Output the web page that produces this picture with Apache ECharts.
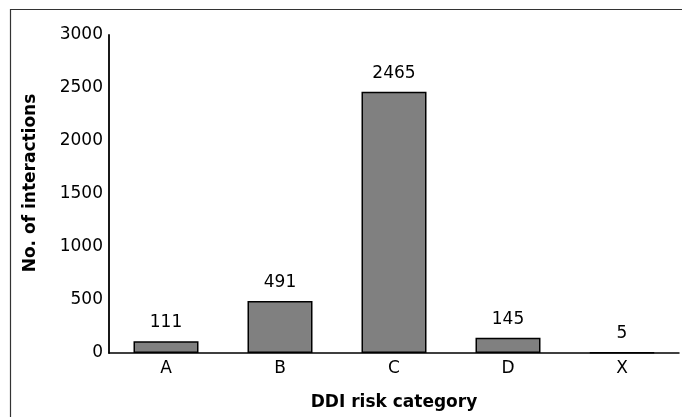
<!DOCTYPE html>
<html><head><meta charset="utf-8">
<script src="https://cdn.jsdelivr.net/npm/echarts@6/dist/echarts.min.js"></script>
<style>html,body{margin:0;padding:0;background:#fff}#c{width:682px;height:417px}</style>
</head><body><div id="c"></div>
<script>
const categories = ['A', 'B', 'C', 'D', 'X'];
const interactions = [111, 491, 2465, 145, 5];
const yTicks = { min: 0, max: 3000, interval: 500 };

const chart = echarts.init(document.getElementById('c'), null, { renderer: 'canvas' });
const font = '"DejaVu Sans", "Liberation Sans", Arial, sans-serif';
chart.setOption({
  animation: false,
  graphic: [{
    type: 'rect', silent: true,
    shape: { x: 10.5, y: 9.5, width: 700, height: 450 },
    style: { fill: 'none', stroke: '#333', lineWidth: 1.2 }
  }],
  grid: { left: 109, right: 3, top: 35, bottom: 64 },
  xAxis: {
    type: 'category', data: categories,
    axisLine: { lineStyle: { color: '#000', width: 1.5 } },
    axisTick: { show: false },
    axisLabel: { color: '#000', fontSize: 17, fontFamily: font, margin: 7 },
    name: 'DDI risk category', nameLocation: 'middle', nameGap: 41,
    nameTextStyle: { color: '#000', fontSize: 17, fontWeight: 'bold', fontFamily: font }
  },
  yAxis: {
    type: 'value', min: yTicks.min, max: yTicks.max, interval: yTicks.interval,
    splitLine: { show: false },
    axisLine: { show: true, lineStyle: { color: '#000', width: 1.8 } },
    axisTick: { show: false },
    axisLabel: { color: '#000', fontSize: 17, fontFamily: font, margin: 6, formatter: v => String(v), padding: [0, 0, 10, 0] },
    name: 'No. of interactions', nameLocation: 'middle', nameGap: 70,
    nameTextStyle: { color: '#000', fontSize: 17, fontWeight: 'bold', fontFamily: font, padding: [0, 0, 0, 22] }
  },
  series: [{
    type: 'bar', data: interactions, barWidth: 65,
    itemStyle: { color: '#808080', borderColor: '#000', borderWidth: 1.5 },
    label: { show: true, position: 'top', distance: 10, color: '#000', fontSize: 17, fontFamily: font }
  }]
});
</script></body></html>
